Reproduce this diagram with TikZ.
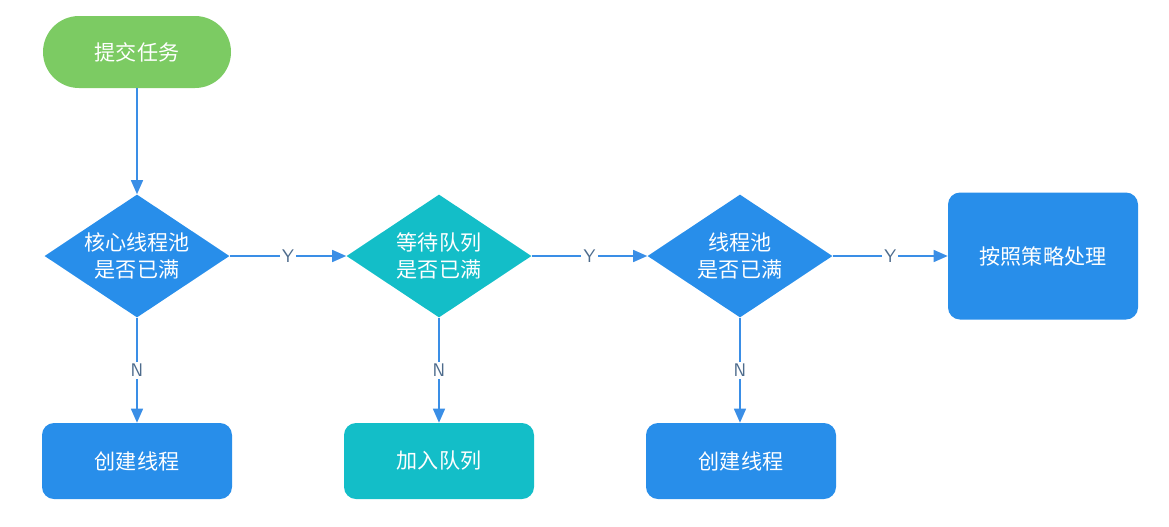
\documentclass[tikz,border=0pt]{standalone}
\usepackage{fontspec}
\setmainfont{Noto Sans}
\newfontfamily\cjk{Noto Sans CJK SC}
\usetikzlibrary{shapes,arrows.meta,positioning}

\definecolor{poolblue}{HTML}{288EEA}
\definecolor{poolteal}{HTML}{13BEC8}
\definecolor{poolgreen}{HTML}{7CCB63}
\definecolor{linkblue}{HTML}{3A8EE6}
\definecolor{labelgray}{HTML}{4D6B8C}

\begin{document}
\begin{tikzpicture}[
    every node/.style={font=\cjk\fontsize{15}{19}\selectfont, text=white},
    start/.style={rectangle, rounded corners=0.9cm, fill=poolgreen, minimum width=4.7cm, minimum height=1.8cm},
    decision/.style={diamond, aspect=1.5, inner sep=0pt, align=center, minimum width=4.625cm, minimum height=3.075cm},
    action/.style={rectangle, rounded corners=0.3cm, minimum width=4.75cm, minimum height=1.9cm},
    arrow/.style={draw=linkblue, line width=1pt, -{Triangle[length=0.35cm, width=0.3cm]}},
    yn/.style={midway, fill=white, inner sep=1.5pt, text=labelgray, font=\sffamily\fontsize{13}{15}\selectfont}
]
\useasboundingbox (0,0) rectangle (29.225,-13.15);

% submit and the three checks
\node[start] (submit) at (3.425,-1.3) {提交任务};
\node[decision, fill=poolblue] (core) at (3.425,-6.4) {核心线程池\\是否已满};
\node[decision, fill=poolteal] (queue) at (10.975,-6.4) {等待队列\\是否已满};
\node[decision, fill=poolblue] (pool) at (18.5,-6.4) {线程池\\是否已满};
\node[action, fill=poolblue, minimum height=3.175cm] (reject) at (26.075,-6.4) {按照策略处理};

% results on N
\node[action, fill=poolblue] (create1) at (3.425,-11.525) {创建线程};
\node[action, fill=poolteal] (enqueue) at (10.975,-11.525) {加入队列};
\node[action, fill=poolblue] (create2) at (18.525,-11.525) {创建线程};

\draw[arrow] (submit) -- (core);
\draw[arrow] (core) -- (queue) node[yn] {Y};
\draw[arrow] (queue) -- (pool) node[yn] {Y};
\draw[arrow] (pool) -- (reject) node[yn] {Y};
\draw[arrow] (core) -- (create1) node[yn] {N};
\draw[arrow] (queue) -- (enqueue) node[yn] {N};
\draw[arrow] (pool.south) -- (pool.south |- create2.north) node[yn] {N};

\end{tikzpicture}
\end{document}
